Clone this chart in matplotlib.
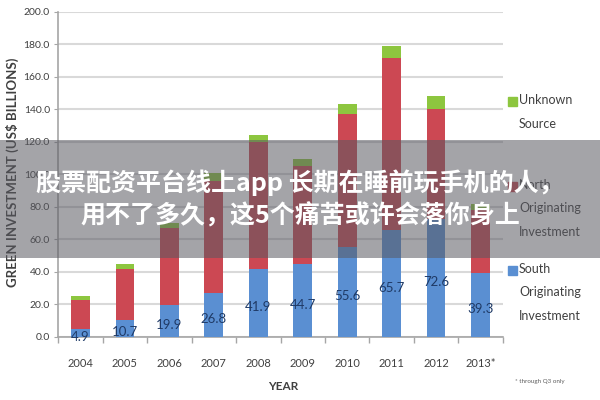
import matplotlib
matplotlib.use("Agg")
import matplotlib.pyplot as plt
from matplotlib.patches import Rectangle
import numpy as np

years = ["2004", "2005", "2006", "2007", "2008", "2009", "2010", "2011", "2012", "2013*"]
south = [4.9, 10.7, 19.9, 26.8, 41.9, 44.7, 55.6, 65.7, 72.6, 39.3]
north = [17.9, 31.1, 47.1, 69.2, 78.1, 60.7, 81.5, 105.7, 67.7, 38.5]
unknown = [2.1, 3.1, 3.0, 5.0, 4.2, 4.3, 6.4, 7.6, 7.8, 4.0]
series_names = ["South\nOriginating\nInvestment", "North\nOriginating\nInvestment", "Unknown\nSource"]
y_ticks = [0, 20, 40, 60, 80, 100, 120, 140, 160, 180, 200]
banner_lines = ["股票配资平台线上app 长期在睡前玩手机的人，", "用不了多久，这5个痛苦或许会落你身上"]
footnote = "* through Q3 only"

c_blue = "#5a8fd2"
c_red = "#cc4853"
c_green = "#8dc63f"
tick_col = "#404040"

plt.rcParams['font.family'] = ['Lato', 'DejaVu Sans']

fig = plt.figure(figsize=(6, 4), dpi=100)
ax = fig.add_axes([0.097, 0.1575, 0.741, 0.8135])

x = np.arange(len(years))
w = 0.42
south_a = np.array(south)
north_a = np.array(north)
unk_a = np.array(unknown)
b1 = ax.bar(x, south_a, w, color=c_blue, zorder=3)
b2 = ax.bar(x, north_a, w, bottom=south_a, color=c_red, zorder=3)
b3 = ax.bar(x, unk_a, w, bottom=south_a + north_a, color=c_green, zorder=3)

for xi, v in zip(x, south):
    ax.annotate(f"{v:.1f}", (xi, v / 2), xytext=(0, -3), textcoords="offset points",
                ha="center", va="center", fontsize=9.5, color="#1f3a66", zorder=4)

ax.set_ylim(0, 200)
ax.set_xlim(-0.5, len(years) - 0.5)
ax.set_yticks(y_ticks)
ax.set_yticklabels([f"{t:.1f}" for t in y_ticks], fontsize=7.5, color=tick_col)
ax.set_xticks(x)
ax.set_xticklabels(years, fontsize=8, color=tick_col)
ax.set_xticks(np.arange(-0.5, len(years), 1.0), minor=True)
ax.tick_params(axis="x", which="major", length=0, pad=15)
ax.tick_params(axis="x", which="minor", length=4, color="#a6a6a6", width=1)
ax.tick_params(axis="y", length=3, color="#a6a6a6", pad=3)
ax.yaxis.grid(True, color="#d9d9d9", linewidth=1.5, zorder=0)
ax.set_axisbelow(True)
for s in ["top", "right"]:
    ax.spines[s].set_visible(False)
for s in ["left", "bottom"]:
    ax.spines[s].set_color("#a6a6a6")
    ax.spines[s].set_linewidth(1.2)

fig.text(0.02, 0.57, "GREEN INVESTMENT (US$ BILLIONS)", rotation=90, ha="center", va="center",
         fontsize=9.5, fontweight="bold", color="#404040")
fig.text(0.472, 0.035, "YEAR", ha="center", va="center", fontsize=8.5, fontweight="bold", color="#404040")

# manual legend (first line aligned with marker, Excel style)
leg_items = [(series_names[2], c_green, 101), (series_names[1], c_red, 186), (series_names[0], c_blue, 270)]
for name, col, ypx in leg_items:
    fig.patches.append(Rectangle((508 / 600, 1 - (ypx + 4.5) / 400), 9 / 600, 9 / 400,
                                 transform=fig.transFigure, color=col, zorder=3))
    fig.text(519 / 600, 1 - (ypx - 7) / 400, name, ha="left", va="top", fontsize=9,
             color="#404040", linespacing=2.15)

fig.text(515 / 600, 1 - 382 / 400, footnote, fontsize=4.5, color="#606060", ha="left", va="center")

# grey banner overlay
fig.patches.append(Rectangle((0, 1 - 258 / 400), 1, 118 / 400, transform=fig.transFigure,
                             facecolor=(0.35, 0.35, 0.38), alpha=0.55, zorder=10))
fig.text(0.5, 1 - 183 / 400, banner_lines[0], ha="center", va="center", fontsize=18, fontweight="bold",
         color="white", family=["Noto Sans CJK SC", "DejaVu Sans"], zorder=11)
fig.text(0.5, 1 - 216 / 400, banner_lines[1], ha="center", va="center", fontsize=18, fontweight="bold",
         color="white", family=["Noto Sans CJK SC", "DejaVu Sans"], zorder=11)

fig.savefig("out.png", dpi=100)
